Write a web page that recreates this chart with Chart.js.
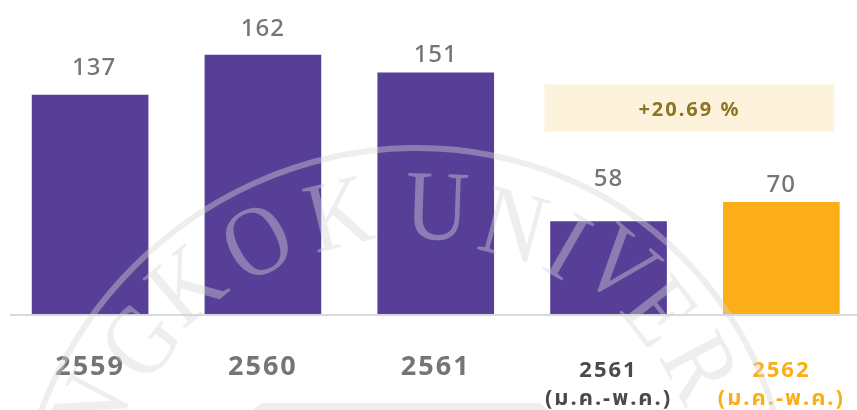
<!DOCTYPE html>
<html><head><meta charset="utf-8">
<style>html,body{margin:0;padding:0;background:#fff;overflow:hidden;width:857px;height:410px}
canvas{display:block;filter:blur(0.5px)}</style>
<script src="https://cdn.jsdelivr.net/npm/chart.js@4/dist/chart.umd.min.js"></script>
</head><body><canvas id="c" width="869" height="410"></canvas>
<script>
const categories=[["2559"],["2560"],["2561"],["2561","(ม.ค.-พ.ค.)"],["2562","(ม.ค.-พ.ค.)"]];
const values=[137,162,151,58,70];
const barColors=["#573f98","#573f98","#573f98","#573f98","#fbae17"];
const tickColors=["#757575","#757575","#757575","#4a4a4a","#fbae17"];
const changeLabel="+20.69 %";
const FONT='"Noto Sans","Noto Sans Thai",sans-serif';
const deco={id:'deco',
 beforeDraw(ch){ch.ctx.letterSpacing='2px';},
 afterDatasetsDraw(ch){
  const c=ch.ctx,x=ch.scales.x,y=ch.scales.y,bars=ch.getDatasetMeta(0).data;
  c.save();
  const lift=[27,26,17,42,17],shift=[4,0,0,0,0];
  c.letterSpacing='1px';
  c.font='500 24px '+FONT;c.fillStyle='#757575';c.textAlign='center';c.textBaseline='middle';
  bars.forEach((b,i)=>c.fillText(String(values[i]),b.x+shift[i],b.y-lift[i]));
  const l=bars[3].x-64,r=bars[4].x+53,t=y.getPixelForValue(143.5),bt=y.getPixelForValue(114);
  c.fillStyle='#fdf3dc';c.fillRect(l,t,r-l,bt-t);
  c.letterSpacing='2px';
  c.fillStyle='#8d7420';c.font='700 20px '+FONT;c.fillText(changeLabel,(l+r)/2,(t+bt)/2+2);
  c.letterSpacing='0px';
  c.strokeStyle='#d9d9d9';c.lineWidth=2;c.beginPath();c.moveTo(10,y.getPixelForValue(0)+1);c.lineTo(857,y.getPixelForValue(0)+1);c.stroke();
  // watermark
  c.strokeStyle=c.fillStyle='rgba(214,214,214,0.417)';
  c.lineWidth=6;c.beginPath();c.ellipse(403,535,394,380,-Math.PI/4,0,Math.PI*2);c.stroke();
  c.font='100px "Liberation Serif"';
  [["N",95,412,-62],["G",145,345,-52],["K",190,290,-40],["O",260,247,-28],["K",340,220,-14],["U",437,213,2],["N",512,231,15],["I",565,252,30],["V",616,270,40],["E",655,315,52],["R",695,370,62]].forEach(([s,px,py,a])=>{
   c.save();c.translate(px,py);c.rotate(a*Math.PI/180);c.scale(.88,1);c.fillText(s,0,0);c.restore();});
  c.beginPath();c.moveTo(252,410);c.lineTo(262,403);c.lineTo(540,403);c.lineTo(548,410);c.closePath();c.fill();
  c.restore();
 }};
new Chart(document.getElementById('c'),{type:'bar',
 data:{labels:categories,datasets:[{data:values,backgroundColor:barColors,categoryPercentage:1,barPercentage:.675}]},
 options:{responsive:false,animation:false,
  layout:{padding:{left:3.7}},
  plugins:{legend:{display:false},tooltip:{enabled:false}},
  scales:{
   y:{display:false,min:0,max:196.25},
   x:{grid:{display:false},border:{display:false},afterFit(s){s.height=96},
      ticks:{autoSkip:false,maxRotation:0,padding:35,color:tickColors,
       font:c=>c.index>2?{family:FONT,size:22,weight:'700',lineHeight:'28px'}:{family:FONT,size:27,weight:'700',lineHeight:'20px'}}}
  }},
 plugins:[deco]});
</script></body></html>
